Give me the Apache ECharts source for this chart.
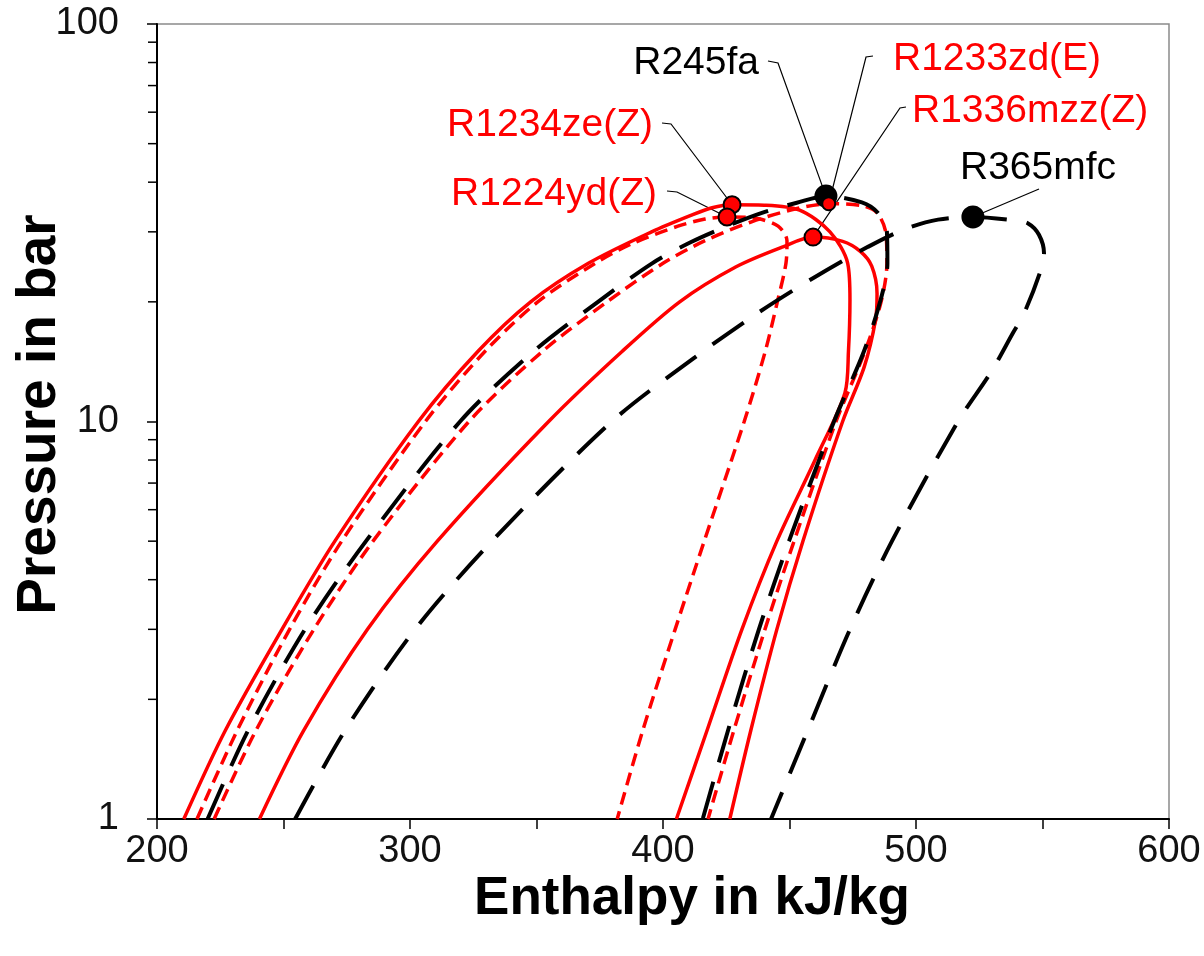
<!DOCTYPE html>
<html><head><meta charset="utf-8">
<script src="https://cdn.jsdelivr.net/npm/echarts@6/dist/echarts.min.js"></script>
<style>html,body{margin:0;padding:0;background:#fff}#c{width:1204px;height:956px}</style>
</head><body><div id="c"></div>
<script>
// ---- data: saturation curves [enthalpy kJ/kg, pressure bar] ----
const R1234ze_Z = [[210.6,1],[227,1.67],[249.4,3],[270.3,5],[303.3,10],[326.8,15],[347.7,20],[370.5,25],[395.5,30],[411,33],[419.4,34.5],[427.3,35.1],[440,35],[454,34],[466,30],[473,25],[473.9,20.2],[473.3,15],[471.9,11.8],[460.1,8],[445,5],[431.2,3],[417.4,1.67],[405.3,1]];
const R1224yd_Z = [[215.8,1],[231.7,1.67],[252.4,3],[273,5],[306.1,10],[329.6,15],[350.5,20],[373.2,25],[387.7,28],[405.9,31],[416.6,32.3],[425.3,32.7],[437.2,32.4],[445.5,31],[449,28.5],[448.6,25],[445.2,20],[440.4,15],[432.1,10],[416.3,5],[404.8,3],[392,1.67],[381.9,1]];
const R245fa = [[220,1],[236,1.67],[258.5,3],[282.6,5],[319.8,10],[348.8,15],[374.3,20],[395.7,25],[410.7,28.2],[425.3,31],[439.1,33.5],[452.9,35.5],[464.4,36.9],[478.6,35.6],[484.9,33.5],[488.5,30],[488.7,25],[485.8,20],[479.4,15],[467.6,10],[449.8,5],[437.9,3],[425.7,1.67],[415.7,1]];
const R1233zd_E = [[222.6,1],[239.1,1.67],[262,3],[285.4,5],[323.3,10],[352.3,15],[377.9,20],[400,25],[416.6,28.5],[435,31.8],[452.6,34.3],[465.5,35.3],[478.7,34.9],[484.6,33.5],[488.1,29.8],[488.5,25],[486.2,20],[479.8,15],[468.4,10],[451.8,5],[440.3,3],[428,1.67],[417.8,1]];
const R1336mzz_Z = [[240.5,1],[258,1.67],[283.2,3],[310.8,5],[354.8,10],[383.8,15],[406.6,20],[428.9,24.5],[447.4,27.5],[459.3,29.1],[471,28.4],[478,26.8],[482.5,24.6],[484.6,21],[484,18],[479.5,13.7],[471,10],[455.3,5],[445,3],[434.7,1.67],[426.4,1]];
const R365mfc = [[254.6,1],[274.3,1.67],[302,3],[332.4,5],[379.8,10],[412.6,14.5],[437.2,18.7],[460.1,23.1],[481,27.5],[495.7,30.5],[508.7,32.2],[522.5,32.7],[538.3,32.1],[544.3,31.5],[548.6,29.5],[550.6,26.5],[549,23.7],[542.7,18.7],[538.3,16.7],[529.6,13.3],[516.6,10],[490.5,5],[473.9,3],[457.2,1.67],[442.7,1]];

// critical points
const critNames = ['R1234ze(Z)','R1224yd(Z)','R245fa','R1233zd(E)','R1336mzz(Z)','R365mfc'];
const critH = [427.3, 425.3, 464.4, 465.5, 459.3, 522.5];
const critP = [35.1, 32.7, 36.9, 35.3, 29.1, 32.7];

// axis ticks
const xTicks = [200, 300, 400, 500, 600];
const yMinorTicks = [2,3,4,5,6,7,8,9,20,30,40,50,60,70,80,90];

// ---- styles / layout ----
const RED = '#ff0000', BLK = '#000000';
const FONT = '"Liberation Sans", Arial, Helvetica, sans-serif';
const curveStyles = [
  {name:'R1234ze(Z)', data:R1234ze_Z, color:RED, type:'solid', width:3.5},
  {name:'R1224yd(Z)', data:R1224yd_Z, color:RED, type:[13,7], width:3.5},
  {name:'R1233zd(E)', data:R1233zd_E, color:RED, type:[13,7], width:3.5},
  {name:'R1336mzz(Z)', data:R1336mzz_Z, color:RED, type:'solid', width:3.5},
  {name:'R245fa', data:R245fa, color:BLK, type:[38,20], width:4},
  {name:'R365mfc', data:R365mfc, color:BLK, type:[38,20], width:4}
];
const dotStyles = {
  'R1234ze(Z)': {fill:RED, size:17},
  'R1224yd(Z)': {fill:RED, size:17},
  'R245fa': {fill:BLK, size:21},
  'R1233zd(E)': {fill:RED, size:13},
  'R1336mzz(Z)': {fill:RED, size:17},
  'R365mfc': {fill:BLK, size:21}
};
// label text anchor and leader start points (pixels)
const labelLayout = {
  'R245fa': {x:759, y:63, align:'right', color:BLK, leader:[[768,61],[778,63]]},
  'R1233zd(E)': {x:893, y:59, align:'left', color:RED, leader:[[873,56],[866,57]]},
  'R1336mzz(Z)': {x:912, y:111, align:'left', color:RED, leader:[[906,107],[900,108]]},
  'R1234ze(Z)': {x:653, y:125, align:'right', color:RED, leader:[[662,123],[671,124]]},
  'R1224yd(Z)': {x:657, y:194, align:'right', color:RED, leader:[[667,191],[677,192]]},
  'R365mfc': {x:960, y:168, align:'left', color:BLK, leader:[[1039,189]]}
};

const chart = echarts.init(document.getElementById('c'));
const series = [];
curveStyles.forEach(c => {
  series.push({
    type:'line', name:c.name, data:c.data, showSymbol:false, smooth:0.3,
    lineStyle:{color:c.color, width:c.width, type:c.type, cap:'butt'},
    z: c.color === BLK ? 3 : 2, silent:true, animation:false
  });
});
series.push({
  type:'custom', name:'yMinor', silent:true, clip:false, animation:false,
  data: yMinorTicks.map(v => [200, v]),
  renderItem: (params, api) => {
    const pt = api.coord([api.value(0), api.value(1)]);
    return {type:'line', shape:{x1:pt[0]-9, y1:pt[1], x2:pt[0], y2:pt[1]}, style:{stroke:'#000', lineWidth:1.5}};
  }
});
series.push({
  type:'scatter', name:'critical', z:5, animation:false, silent:true,
  data: critNames.map((n,i) => ({
    value:[critH[i], critP[i]], symbolSize: dotStyles[n].size,
    itemStyle:{color:dotStyles[n].fill, borderColor:'#000', borderWidth:2, opacity:1}
  }))
});

const option = {
  animation:false,
  backgroundColor:'#fff',
  grid:{left:157, right:35, top:24, bottom:137, containLabel:false, outerBoundsMode:'none',
    show:true, borderColor:'#8a8a8a', borderWidth:1.5, backgroundColor:'transparent'},
  xAxis:{
    type:'value', min:200, max:600, interval:100,
    axisLine:{show:true, onZero:false, lineStyle:{color:'#000', width:2}},
    axisTick:{show:true, inside:false, length:10, lineStyle:{color:'#000', width:1.5}},
    minorTick:{show:true, splitNumber:2, length:10, lineStyle:{color:'#000', width:1.5}},
    splitLine:{show:false},
    axisLabel:{fontSize:38, fontFamily:FONT, color:'#111', margin:14,
      formatter: v => xTicks.indexOf(v) >= 0 ? String(v) : ''},
    name:'Enthalpy in kJ/kg', nameLocation:'middle', nameGap:54, nameMoveOverlap:false,
    nameTextStyle:{fontSize:53, fontWeight:'bold', fontFamily:FONT, color:'#000', padding:[0,0,0,58]}
  },
  yAxis:{
    type:'log', logBase:10, min:1, max:100,
    axisLine:{show:true, onZero:false, lineStyle:{color:'#000', width:2}},
    axisTick:{show:true, inside:false, length:10, lineStyle:{color:'#000', width:1.5}},
    minorTick:{show:false},
    splitLine:{show:false},
    axisLabel:{fontSize:38, fontFamily:FONT, color:'#111', margin:38},
    name:'Pressure in bar', nameLocation:'middle', nameGap:90, nameMoveOverlap:false,
    nameTextStyle:{fontSize:55, fontWeight:'bold', fontFamily:FONT, color:'#000', padding:[0,0,0,14]}
  },
  series
};
chart.setOption(option);

// labels + leader lines, anchored to the critical points via the axes
const graphics = [];
critNames.forEach((n,i) => {
  const L = labelLayout[n];
  const d = chart.convertToPixel({gridIndex:0}, [critH[i], critP[i]]);
  const pts = L.leader.concat([[d[0], d[1]]]);
  graphics.push({type:'polyline', z:1, silent:true, shape:{points:pts}, style:{stroke:'#000', lineWidth:1.2, fill:null}});
  graphics.push({type:'text', z:10, silent:true, style:{x:L.x, y:L.y, text:n, fill:L.color,
    font:'39px ' + FONT, align:L.align, verticalAlign:'middle', textAlign:L.align, textVerticalAlign:'middle'}});
});
chart.setOption({graphic:graphics});
</script></body></html>
